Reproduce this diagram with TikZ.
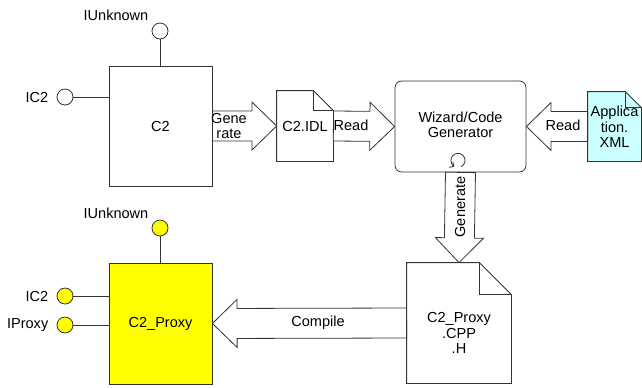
\documentclass[tikz,border=0pt]{standalone}
\usepackage{fontspec}
\setmainfont{Liberation Sans}
\usetikzlibrary{arrows.meta, positioning, calc}
\definecolor{cyellow}{HTML}{FFFF00}
\definecolor{ccyan}{HTML}{CCFFFF}
\definecolor{cline}{HTML}{333333}
\tikzset{
  every picture/.style={font=\fontsize{10.9}{11.5}\selectfont, line width=0.6pt},
  box/.style={draw=cline, fill=#1, inner sep=0pt, align=center},
  box/.default=white,
  doc/.style={inner sep=0pt, align=center},
  plug/.style={circle, draw=cline, fill=#1, minimum size=12pt, inner sep=0pt},
  plug/.default=white,
  wire/.style={draw=cline},
  fatline/.style={draw=cline, fill=white},
}
% document outline with folded corner: #1 node name, #2 fold size, #3 fill
\newcommand\docpage[3]{%
  \filldraw[draw=cline, fill=#3] (#1.north west) -- ($(#1.north east)-(#2,0)$)
    -- ($(#1.north east)-(0,#2)$) -- (#1.south east) -- (#1.south west) -- cycle;
  \draw[cline] ($(#1.north east)-(#2,0)$) |- ($(#1.north east)-(0,#2)$);
}
% hollow block arrow from #1 (tail) to #2 (tip)
\newcommand\fatarrow[2]{%
  \filldraw[fatline] let \p1=(#1), \p2=(#2), \n1={atan2(\y2-\y1,\x2-\x1)} in
    ($(\p1)+(\n1+90:11.25pt)$) -- ($(\p2)+(\n1+180:18.5pt)+(\n1+90:11.25pt)$)
    -- ($(\p2)+(\n1+180:18.5pt)+(\n1+90:18pt)$) -- (\p2)
    -- ($(\p2)+(\n1+180:18.5pt)+(\n1-90:18pt)$) -- ($(\p2)+(\n1+180:18.5pt)+(\n1-90:11.25pt)$)
    -- ($(\p1)+(\n1-90:11.25pt)$) -- cycle;
}
\begin{document}
\begin{tikzpicture}[x=0.75pt, y=-0.75pt]
  \useasboundingbox (0,0) rectangle (642,387);
  % component C2
  \node[box, minimum width=77.25pt, minimum height=90pt] (c2) at (160.5,126) {C2};
  \node[plug] (c2unk) at (160,31) {};
  \node (c2unklab) at (116,15) {IUnknown};
  \draw[wire] (c2unk) -- (c2unk |- c2.north);
  \node[plug] (c2ic) at (65,97) {};
  \node[anchor=east, inner sep=1pt] (c2iclab) at (50,97) {IC2};
  \draw[wire] (c2ic) -- (c2ic -| c2.west);
  % C2.IDL
  \node[doc, minimum width=42pt, minimum height=52.5pt] (idl) at (305,126) {};
  \docpage{idl}{15pt}{white}
  \node at (idl) {C2.IDL};
  % wizard
  \node[box, rounded corners=5pt, minimum width=98.25pt, minimum height=68.25pt] (wiz) at (460.5,126.5) {};
  \node[align=center] (wizlab) at (460.5,125) {Wizard/Code\\Generator};
  \coordinate (loop) at ($(wiz.south)+(-1.9pt,9pt)$);
  \draw[cline, -{Straight Barb[length=2.5pt]}] ($(loop)+(296:5.3pt)$) arc[start angle=296, end angle=600, radius=5.3pt];
  % Application.XML
  \node[doc, minimum width=39.75pt, minimum height=51.75pt] (app) at (614.5,126.5) {};
  \docpage{app}{12pt}{ccyan}
  \node[align=center] at (614.5,127) {Applica\\tion.\\XML};
  % C2_Proxy.CPP .H
  \node[doc, minimum width=78pt, minimum height=90pt] (cpp) at (459,323) {};
  \docpage{cpp}{24pt}{white}
  \node[align=center] at (459,333) {C2\_Proxy\\.CPP\\.H};
  % component C2_Proxy
  \node[box=cyellow, minimum width=77.25pt, minimum height=90.75pt] (prx) at (160.5,323.5) {C2\_Proxy};
  \node[plug=cyellow] (prxunk) at (160,228) {};
  \node (prxunklab) at (116,213) {IUnknown};
  \draw[wire] (prxunk) -- (prxunk |- prx.north);
  \node[plug=cyellow] (prxic) at (65,296) {};
  \node[anchor=east, inner sep=1pt] (prxiclab) at (50,296) {IC2};
  \draw[wire] (prxic) -- (prxic -| prx.west);
  \node[plug=cyellow] (prxip) at (65,325) {};
  \node[anchor=east, inner sep=1pt] (prxiplab) at (50,325) {IProxy};
  \draw[wire] (prxip) -- (prxip -| prx.west);
  % block arrows
  \fatarrow{c2.east}{idl.west}
  \node[align=center, inner sep=0pt] (genlab) at (229,126) {Gene\\rate};
  \fatarrow{idl.east}{wiz.west}
  \node (readlab) at (351,125) {Read};
  \fatarrow{app.west}{wiz.east}
  \node (readlab2) at (563,125) {Read};
  \fatarrow{wiz.south}{cpp.north}
  \node[rotate=90] (genlab2) at (460,207) {Generate};
  \fatarrow{cpp.west}{prx.east}
  \node (complab) at (318,323) {Compile};
\end{tikzpicture}
\end{document}
